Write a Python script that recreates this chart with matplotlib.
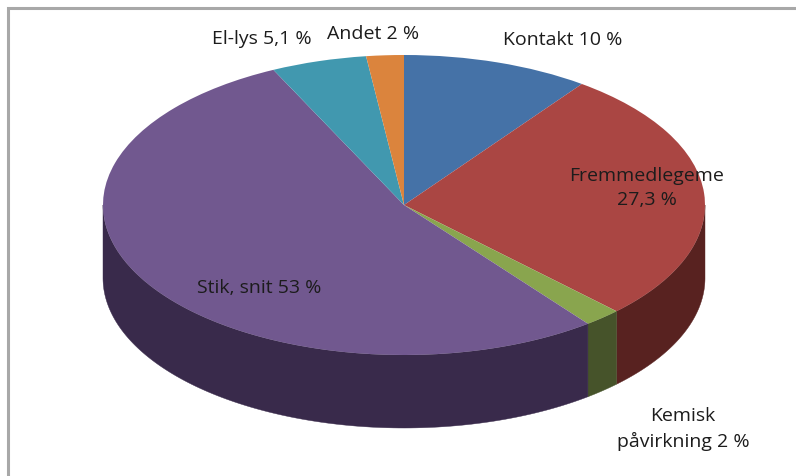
import numpy as np
import matplotlib
matplotlib.use("Agg")
import matplotlib.pyplot as plt

labels = ["Kontakt 10 %", "Fremmedlegeme\n27,3 %", "Kemisk\npåvirkning 2 %", "Stik, snit 53 %", "El-lys 5,1 %", "Andet 2 %"]
values = [10, 27.3, 2, 53, 5.1, 2]
top_colors = ["#4572A7", "#AA4643", "#89A54E", "#71588F", "#4198AF", "#DB843D"]
side_colors = ["#2B4566", "#582220", "#46532A", "#392A4B", "#21505C", "#6E4220"]

W, H = 796, 476
CX, CY, RX, RY, DEPTH = 404, 205, 301, 150, 73
label_pos = [(563, 40), (647, 188), (683, 429), (259, 288), (262, 39), (373, 34)]

fig = plt.figure(figsize=(W / 100, H / 100), dpi=100, facecolor="white")
ax = fig.add_axes([0, 0, 1, 1])

wedges, _ = ax.pie(values, colors=top_colors, startangle=90, counterclock=False,
                   radius=1, center=(0, 0), wedgeprops={"linewidth": 0, "zorder": 3})
ax.set_aspect("auto")
ax.set_xlim(-CX / RX, (W - CX) / RX)
ax.set_ylim((CY - H) / RY, CY / RY)
ax.axis("off")

# Side wall of the disc, from the same wedge angles
fr = np.cumsum([0] + values) / sum(values) * 2 * np.pi
d = DEPTH / RY
for a0, a1, c in zip(fr[:-1], fr[1:], side_colors):
    lo, hi = max(a0, np.pi / 2), min(a1, 3 * np.pi / 2)
    if hi <= lo:
        continue
    t = np.linspace(lo, hi, 120)
    x, y = np.sin(t), np.cos(t)
    ax.fill(np.r_[x, x[::-1]], np.r_[y, y[::-1] - d], color=c, lw=0.3, zorder=2)

for s, (px, py) in zip(labels, label_pos):
    ax.text((px - CX) / RX, (CY - py) / RY, s, ha="center", va="center",
            fontsize=14, family="Open Sans", color="#1C1C1C", linespacing=1.45, zorder=5)

# Frame
ax.plot([(7.5 - CX) / RX, (7.5 - CX) / RX, (W - CX) / RX],
        [(CY - H) / RY, (CY - 7.5) / RY, (CY - 7.5) / RY],
        color="#A8A8A8", lw=2.2, solid_joinstyle="miter", zorder=1, clip_on=False)

fig.savefig("out.png", dpi=100, facecolor="white")
